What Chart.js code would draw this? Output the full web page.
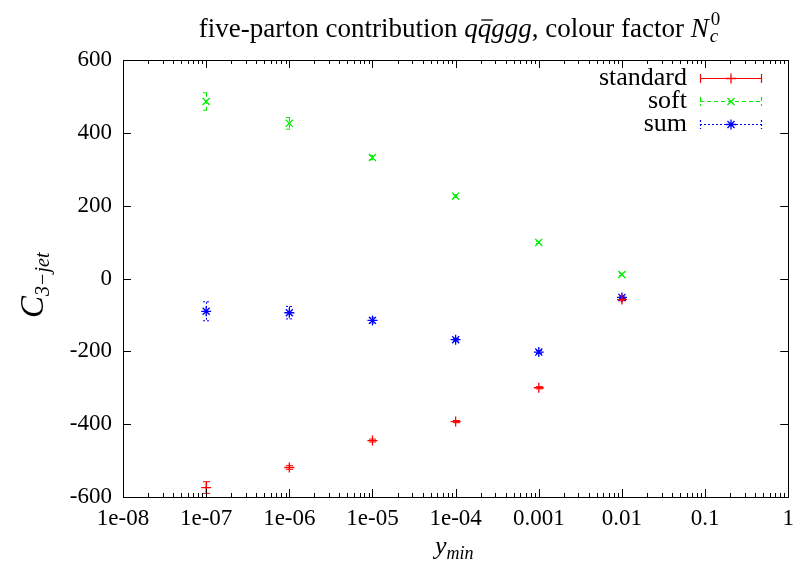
<!DOCTYPE html>
<html><head><meta charset="utf-8">
<script src="https://cdn.jsdelivr.net/npm/chart.js@4/dist/chart.umd.min.js"></script>
<style>html,body{margin:0;padding:0;background:#fff}#wrap{width:802px;height:567px}</style>
</head><body><div id="wrap"><canvas id="c" width="802" height="567"></canvas></div>
<script>
const yminValues = [1e-7, 1e-6, 1e-5, 1e-4, 1e-3, 1e-2];
const standardValues = [-574, -519, -445, -393, -300, -58];
const standardErrors = [16, 5, 4, 3, 3, 3];
const softValues = [486, 426, 332, 226, 99, 11];
const softErrors = [24, 16, 6, 4, 3, 3];
const sumValues = [-90, -94, -115, -168, -202, -52];
const sumErrors = [26, 17, 7, 4, 4, 4];
const xTickValues = [1e-8, 1e-7, 1e-6, 1e-5, 1e-4, 1e-3, 1e-2, 1e-1, 1];
const xTickLabels = ['1e-08', '1e-07', '1e-06', '1e-05', '1e-04', '0.001', '0.01', '0.1', '1'];
const yTickValues = [-600, -400, -200, 0, 200, 400, 600];
const seriesNames = ['standard', 'soft', 'sum'];

const SERIF = "'Liberation Serif', 'DejaVu Serif', serif";
const series = [
  {name: seriesNames[0], vals: standardValues, errs: standardErrors, color: '#ff0000', style: 'cross', dash: []},
  {name: seriesNames[1], vals: softValues, errs: softErrors, color: '#00ee00', style: 'crossRot', dash: [4, 3]},
  {name: seriesNames[2], vals: sumValues, errs: sumErrors, color: '#0000ff', style: 'star', dash: [2, 2]}
];

const datasets = series.map(s => ({
  label: s.name,
  data: yminValues.map((x, i) => ({x: x, y: s.vals[i], e: s.errs[i]})),
  borderColor: s.color,
  backgroundColor: s.color,
  pointStyle: s.style,
  pointRadius: 5,
  pointBorderWidth: 1.3,
  showLine: false,
  dash: s.dash
}));

function drawPointShape(ctx, style, x, y, r) {
  ctx.beginPath();
  if (style === 'cross' || style === 'star') {
    ctx.moveTo(x - r, y); ctx.lineTo(x + r, y);
    ctx.moveTo(x, y - r); ctx.lineTo(x, y + r);
  }
  if (style === 'crossRot' || style === 'star') {
    const d = r * 0.7071;
    ctx.moveTo(x - d, y - d); ctx.lineTo(x + d, y + d);
    ctx.moveTo(x - d, y + d); ctx.lineTo(x + d, y - d);
  }
  ctx.stroke();
}

const framePlugin = {
  id: 'frame',
  beforeDatasetsDraw(chart) {
    const ctx = chart.ctx, xs = chart.scales.x, ys = chart.scales.y;
    ctx.save();
    chart.data.datasets.forEach(ds => {
      ctx.strokeStyle = ds.borderColor;
      ctx.lineWidth = 1;
      ctx.setLineDash(ds.dash);
      ds.data.forEach(p => {
        const px = Math.round(xs.getPixelForValue(p.x)) + 0.5;
        const pt = ys.getPixelForValue(p.y + p.e);
        const pb = ys.getPixelForValue(p.y - p.e);
        ctx.beginPath();
        ctx.moveTo(px, pt); ctx.lineTo(px, pb);
        ctx.moveTo(px - 3.5, pt); ctx.lineTo(px + 3.5, pt);
        ctx.moveTo(px - 3.5, pb); ctx.lineTo(px + 3.5, pb);
        ctx.stroke();
      });
    });
    ctx.restore();
  },
  afterDraw(chart) {
    const ctx = chart.ctx, a = chart.chartArea, xs = chart.scales.x, ys = chart.scales.y;
    ctx.save();
    ctx.strokeStyle = '#000';
    ctx.lineWidth = 1;
    ctx.setLineDash([]);
    ctx.strokeRect(Math.round(a.left) + 0.5, Math.round(a.top) + 0.5, Math.round(a.right - a.left), Math.round(a.bottom - a.top));
    ctx.beginPath();
    xTickValues.forEach((v, i) => {
      const px = Math.round(xs.getPixelForValue(v)) + 0.5;
      ctx.moveTo(px, a.bottom); ctx.lineTo(px, a.bottom - 8);
      ctx.moveTo(px, a.top); ctx.lineTo(px, a.top + 8);
      if (i < xTickValues.length - 1) {
        for (let k = 2; k <= 9; k++) {
          const mx = Math.round(xs.getPixelForValue(v * k)) + 0.5;
          ctx.moveTo(mx, a.bottom); ctx.lineTo(mx, a.bottom - 4);
          ctx.moveTo(mx, a.top); ctx.lineTo(mx, a.top + 4);
        }
      }
    });
    yTickValues.forEach(v => {
      const py = Math.round(ys.getPixelForValue(v)) + 0.5;
      ctx.moveTo(a.left, py); ctx.lineTo(a.left + 8, py);
      ctx.moveTo(a.right, py); ctx.lineTo(a.right - 8, py);
    });
    ctx.stroke();

    // title
    ctx.fillStyle = '#000';
    ctx.textBaseline = 'alphabetic';
    ctx.textAlign = 'left';
    const fs = 27;
    const N = (st) => st + ' ' + fs + 'px ' + SERIF;
    const parts = [
      ['five-parton contribution ', N('')],
      ['q', N('italic')],
      ['q', N('italic'), 'bar'],
      ['ggg', N('italic')],
      [', colour factor ', N('')],
      ['N', N('italic')]
    ];
    let total = 0;
    parts.forEach(p => { ctx.font = p[1]; total += ctx.measureText(p[0]).width; });
    ctx.font = 'italic 19px ' + SERIF; const wsub = ctx.measureText('c').width;
    total += wsub + 2;
    let x = 459 - total / 2; const by = 37;
    parts.forEach(p => {
      ctx.font = p[1];
      ctx.fillText(p[0], x, by);
      const w = ctx.measureText(p[0]).width;
      if (p[2] === 'bar') {
        ctx.beginPath(); ctx.lineWidth = 1.3;
        ctx.moveTo(x + 3.5, by - 17); ctx.lineTo(x + w + 1.5, by - 17); ctx.stroke();
      }
      x += w;
    });
    ctx.font = 'italic 19px ' + SERIF; ctx.fillText('c', x + 1, by + 5);
    ctx.font = '19px ' + SERIF; ctx.fillText('0', x + 2, by - 12);

    // y label
    ctx.save();
    ctx.translate(43, 302);
    ctx.rotate(-Math.PI / 2);
    ctx.font = 'italic 33px ' + SERIF;
    ctx.fillText('C', -16, 0);
    const cw = ctx.measureText('C').width;
    ctx.font = 'italic 20px ' + SERIF;
    ctx.fillText('3\u2212jet', -16 + cw, 6);
    ctx.restore();

    // x label
    ctx.font = 'italic 26px ' + SERIF;
    ctx.fillText('y', 435, 554);
    const yw = ctx.measureText('y').width;
    ctx.font = 'italic 18px ' + SERIF;
    ctx.fillText('min', 435 + yw, 559);

    // legend
    const rows = [78, 101, 124];
    series.forEach((s, i) => {
      const ry = rows[i];
      ctx.font = '26px ' + SERIF;
      ctx.textAlign = 'right';
      ctx.textBaseline = 'middle';
      ctx.fillStyle = '#000';
      ctx.fillText(s.name, 687, ry);
      ctx.strokeStyle = s.color;
      ctx.lineWidth = 1.2;
      ctx.setLineDash(s.dash);
      ctx.beginPath();
      ctx.moveTo(700, ry + 0.5); ctx.lineTo(762, ry + 0.5);
      ctx.moveTo(700.5, ry - 4); ctx.lineTo(700.5, ry + 5);
      ctx.moveTo(761.5, ry - 4); ctx.lineTo(761.5, ry + 5);
      ctx.stroke();
      ctx.setLineDash([]);
      ctx.lineWidth = 1.3;
      drawPointShape(ctx, s.style, 731, ry + 0.5, 5);
    });
    ctx.restore();
  }
};

new Chart(document.getElementById('c'), {
  type: 'scatter',
  data: {datasets: datasets},
  plugins: [framePlugin],
  options: {
    responsive: false,
    devicePixelRatio: 1,
    animation: false,
    layout: {padding: {left: 0, right: 12, top: 60, bottom: 0}},
    plugins: {legend: {display: false}, tooltip: {enabled: false}, title: {display: false}},
    scales: {
      x: {
        type: 'logarithmic', min: 1e-8, max: 1,
        afterBuildTicks: s => { s.ticks = xTickValues.map(v => ({value: v, major: true})); },
        afterFit: s => { s.height = 70; },
        grid: {display: false, drawTicks: false},
        border: {display: false},
        ticks: {
          autoSkip: false, maxRotation: 0, padding: 8, color: '#000',
          font: {family: SERIF, size: 23},
          callback: (v, i) => xTickLabels[i]
        }
      },
      y: {
        type: 'linear', min: -600, max: 600,
        afterBuildTicks: s => { s.ticks = yTickValues.map(v => ({value: v})); },
        afterFit: s => { s.width = 123; },
        grid: {display: false, drawTicks: false},
        border: {display: false},
        ticks: {padding: 11, color: '#000', font: {family: SERIF, size: 23}, callback: v => String(v)}
      }
    }
  }
});
</script></body></html>
